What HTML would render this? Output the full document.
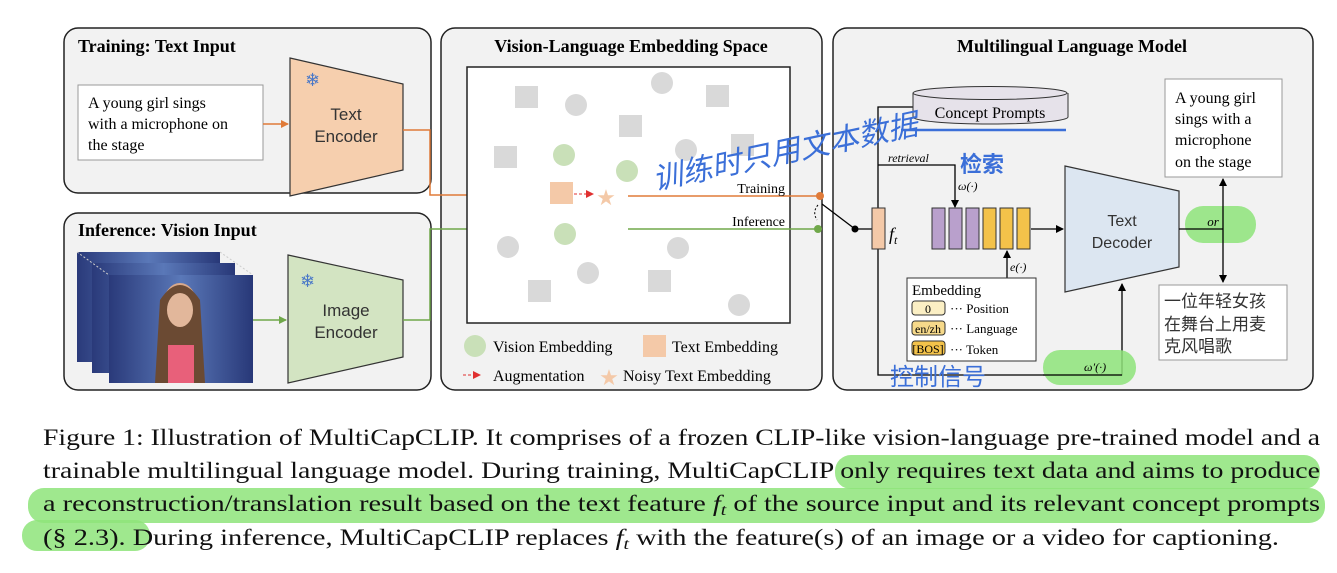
<!DOCTYPE html>
<html><head><meta charset="utf-8"><style>
html,body{margin:0;padding:0;background:#fff;width:1337px;height:573px;overflow:hidden}
svg{display:block}
.s{font-family:"Liberation Serif","Noto Serif CJK SC",serif}
.a{font-family:"Liberation Sans","Noto Sans CJK SC",sans-serif}
</style></head><body>
<svg width="1337" height="573" viewBox="0 0 1337 573" xmlns="http://www.w3.org/2000/svg">
<defs>
<marker id="ao" markerWidth="8" markerHeight="8" refX="7" refY="4" orient="auto" markerUnits="userSpaceOnUse"><path d="M0,0 L8,4 L0,8z" fill="#e07b39"/></marker>
<marker id="ag" markerWidth="8" markerHeight="8" refX="7" refY="4" orient="auto" markerUnits="userSpaceOnUse"><path d="M0,0 L8,4 L0,8z" fill="#70a84a"/></marker>
<marker id="ak" markerWidth="8" markerHeight="8" refX="7" refY="4" orient="auto" markerUnits="userSpaceOnUse"><path d="M0,0 L8,4 L0,8z" fill="#000"/></marker>
<marker id="ar" markerWidth="8" markerHeight="8" refX="7" refY="4" orient="auto" markerUnits="userSpaceOnUse"><path d="M0,0 L8,4 L0,8z" fill="#e03030"/></marker>
<linearGradient id="img" x1="0" y1="0" x2="1" y2="0"><stop offset="0" stop-color="#2a3a7a"/><stop offset="0.5" stop-color="#5a78b8"/><stop offset="1" stop-color="#283878"/></linearGradient>
</defs>
<!-- panels -->
<rect x="64" y="28" width="367" height="165" rx="14" fill="#f2f2f2" stroke="#222" stroke-width="1.5"/>
<rect x="64" y="213" width="367" height="177" rx="14" fill="#f2f2f2" stroke="#222" stroke-width="1.5"/>
<rect x="441" y="28" width="381" height="362" rx="14" fill="#f2f2f2" stroke="#222" stroke-width="1.5"/>
<rect x="833" y="28" width="480" height="362" rx="14" fill="#f2f2f2" stroke="#222" stroke-width="1.5"/>
<text x="78" y="52" class="s" font-size="18" font-weight="bold">Training: Text Input</text>
<text x="78" y="236" class="s" font-size="18" font-weight="bold">Inference: Vision Input</text>
<text x="631" y="52" class="s" font-size="18" font-weight="bold" text-anchor="middle">Vision-Language Embedding Space</text>
<text x="1072" y="52" class="s" font-size="18" font-weight="bold" text-anchor="middle">Multilingual Language Model</text>
<!-- text input -->
<rect x="78" y="85" width="185" height="75" fill="#fff" stroke="#999"/>
<text class="s" font-size="16"><tspan x="88" y="108">A young girl sings</tspan><tspan x="88" y="129">with a microphone on</tspan><tspan x="88" y="150">the stage</tspan></text>
<line x1="263" y1="124" x2="288" y2="124" stroke="#e07b39" stroke-width="1.5" marker-end="url(#ao)"/>
<polygon points="290,58 403,84 403,170 290,196" fill="#f6cfae" stroke="#333" stroke-width="1.2"/>
<text x="305" y="86" font-size="18" fill="#4a78c8">❄</text>
<text x="346" y="120" class="a" font-size="17" fill="#333" text-anchor="middle">Text</text>
<text x="346" y="142" class="a" font-size="17" fill="#333" text-anchor="middle">Encoder</text>
<polyline points="403,130 430,130 430,195 548,195" fill="none" stroke="#e07b39" stroke-width="1.5" marker-end="url(#ao)"/>
<!-- images -->
<rect x="77" y="252" width="143" height="110" fill="url(#img)"/>
<rect x="92" y="263" width="143" height="110" fill="url(#img)"/>
<line x1="77" y1="252" x2="109" y2="275" stroke="#ccc" stroke-dasharray="2,2"/>
<line x1="220" y1="252" x2="253" y2="275" stroke="#ccc" stroke-dasharray="2,2"/>
<rect x="109" y="275" width="144" height="108" fill="url(#img)"/>
<ellipse cx="180" cy="305" rx="17" ry="22" fill="#d9a98c"/>
<path d="M160,300 Q180,270 200,300 L205,383 L155,383z" fill="#6b4a33"/>
<ellipse cx="180" cy="310" rx="13" ry="17" fill="#e2b79b"/>
<rect x="168" y="345" width="26" height="38" fill="#e8607a"/>
<line x1="403" y1="320" x2="288" y2="320" stroke="none"/>
<line x1="253" y1="320" x2="286" y2="320" stroke="#70a84a" stroke-width="1.5" marker-end="url(#ag)"/>
<polygon points="288,255 403,280 403,357 288,383" fill="#d3e4c2" stroke="#333" stroke-width="1.2"/>
<text x="300" y="287" font-size="18" fill="#4a78c8">❄</text>
<text x="346" y="316" class="a" font-size="17" fill="#333" text-anchor="middle">Image</text>
<text x="346" y="338" class="a" font-size="17" fill="#333" text-anchor="middle">Encoder</text>
<polyline points="403,320 430,320 430,229 548,229" fill="none" stroke="#70a84a" stroke-width="1.5" marker-end="url(#ag)"/>
<!-- embedding space -->
<rect x="467" y="67" width="323" height="256" fill="#fff" stroke="#222" stroke-width="1.5"/>
<g fill="#d9d9d9">
<rect x="515" y="86" width="23" height="22"/><rect x="619" y="115" width="23" height="22"/><rect x="706" y="85" width="23" height="22"/>
<rect x="494" y="146" width="23" height="22"/><rect x="731" y="134" width="23" height="22"/><rect x="528" y="280" width="23" height="22"/><rect x="648" y="270" width="23" height="22"/>
<circle cx="576" cy="105" r="11"/><circle cx="662" cy="83" r="11"/><circle cx="686" cy="150" r="11"/><circle cx="508" cy="247" r="11"/><circle cx="588" cy="273" r="11"/><circle cx="678" cy="248" r="11"/><circle cx="739" cy="305" r="11"/>
</g>
<g fill="#c9e0b8"><circle cx="564" cy="155" r="11"/><circle cx="627" cy="171" r="11"/><circle cx="565" cy="234" r="11"/></g>
<rect x="550" y="182" width="23" height="22" fill="#f4c9a8"/>
<line x1="574" y1="194" x2="593" y2="194" stroke="#e03030" stroke-dasharray="3,2" marker-end="url(#ar)"/>
<text x="606" y="205" font-size="22" fill="#f4c9a8" text-anchor="middle">★</text>
<line x1="628" y1="196" x2="820" y2="196" stroke="#e07b39" stroke-width="1.5"/>
<line x1="628" y1="229" x2="818" y2="229" stroke="#70a84a" stroke-width="1.5"/>
<text x="785" y="193" class="s" font-size="14" text-anchor="end">Training</text>
<text x="785" y="226" class="s" font-size="14" text-anchor="end">Inference</text>
<circle cx="820" cy="196" r="4" fill="#e07b39"/><circle cx="818" cy="229" r="4" fill="#70a84a"/>
<path d="M818,205 Q812,212 817,220" fill="none" stroke="#000" stroke-dasharray="2,2"/>
<line x1="822" y1="204" x2="855" y2="229" stroke="#000" stroke-width="1.3"/>
<circle cx="855" cy="229" r="3.5" fill="#000"/>
<line x1="855" y1="229" x2="872" y2="229" stroke="#000" stroke-width="1.3"/>
<circle cx="475" cy="346" r="11" fill="#c9e0b8"/>
<text x="493" y="352" class="s" font-size="16">Vision Embedding</text>
<rect x="643" y="335" width="23" height="22" fill="#f4c9a8"/>
<text x="672" y="352" class="s" font-size="16">Text Embedding</text>
<line x1="463" y1="375" x2="480" y2="375" stroke="#e03030" stroke-dasharray="3,2" marker-end="url(#ar)"/>
<text x="493" y="381" class="s" font-size="16">Augmentation</text>
<text x="609" y="385" font-size="22" fill="#f4c9a8" text-anchor="middle">★</text>
<text x="623" y="381" class="s" font-size="16">Noisy Text Embedding</text>
<!-- right panel -->
<polyline points="913,107 878,107 878,375 1122,375 1122,284" fill="none" stroke="#000" stroke-width="1.3" marker-end="url(#ak)"/>
<polyline points="878,165 955,165 955,207" fill="none" stroke="#000" stroke-width="1.3" marker-end="url(#ak)"/>
<text x="888" y="162" class="s" font-size="12" font-style="italic">retrieval</text>
<text x="958" y="190" class="s" font-size="12" font-style="italic">ω(·)</text>
<path d="M913,93 L913,117 A77,7 0 0 0 1068,117 L1068,93" fill="#e6e2ea" stroke="#333"/>
<ellipse cx="990" cy="93" rx="77" ry="6.5" fill="#e6e2ea" stroke="#333"/>
<text x="990" y="118" class="s" font-size="16" text-anchor="middle">Concept Prompts</text>
<line x1="901" y1="130" x2="1066" y2="130" stroke="#3b6fd8" stroke-width="2.5"/>
<rect x="872" y="208" width="13" height="41" fill="#f4c9a8" stroke="#333"/>
<text x="889" y="240" class="s" font-size="18" font-style="italic">f<tspan font-size="12" dy="4">t</tspan></text>
<g stroke="#333" stroke-width="1">
<rect x="932" y="208" width="13" height="41" fill="#b9a0cc"/><rect x="949" y="208" width="13" height="41" fill="#b9a0cc"/><rect x="966" y="208" width="13" height="41" fill="#b9a0cc"/>
<rect x="983" y="208" width="13" height="41" fill="#f3c24a"/><rect x="1000" y="208" width="13" height="41" fill="#f3c24a"/><rect x="1017" y="208" width="13" height="41" fill="#f3c24a"/>
</g>
<line x1="1031" y1="229" x2="1063" y2="229" stroke="#000" stroke-width="1.3" marker-end="url(#ak)"/>
<polygon points="1065,166 1179,191 1179,267 1065,292" fill="#dce6f1" stroke="#333" stroke-width="1.2"/>
<text x="1122" y="226" class="a" font-size="16" fill="#333" text-anchor="middle">Text</text>
<text x="1122" y="248" class="a" font-size="16" fill="#333" text-anchor="middle">Decoder</text>
<rect x="1185" y="206" width="71" height="37" rx="18" fill="#8ee47a" opacity="0.85"/>
<line x1="1179" y1="229" x2="1223" y2="229" stroke="#000" stroke-width="1.3"/>
<line x1="1223" y1="229" x2="1223" y2="179" stroke="#000" stroke-width="1.3" marker-end="url(#ak)"/>
<line x1="1223" y1="229" x2="1223" y2="282" stroke="#000" stroke-width="1.3" marker-end="url(#ak)"/>
<text x="1213" y="226" class="s" font-size="13" font-style="italic" text-anchor="middle">or</text>
<rect x="1165" y="79" width="117" height="98" fill="#fff" stroke="#999"/>
<text class="s" font-size="16"><tspan x="1175" y="103">A young girl</tspan><tspan x="1175" y="124">sings with a</tspan><tspan x="1175" y="145">microphone</tspan><tspan x="1175" y="167">on the stage</tspan></text>
<rect x="1159" y="285" width="128" height="75" fill="#fff" stroke="#999"/>
<text class="a" font-size="17" fill="#333"><tspan x="1164" y="307">一位年轻女孩</tspan><tspan x="1164" y="330">在舞台上用麦</tspan><tspan x="1164" y="352">克风唱歌</tspan></text>
<line x1="1007" y1="278" x2="1007" y2="251" stroke="#000" stroke-width="1.3" marker-end="url(#ak)"/>
<text x="1010" y="271" class="s" font-size="12" font-style="italic">e(·)</text>
<rect x="907" y="278" width="129" height="83" fill="#fff" stroke="#333"/>
<text x="912" y="295" class="s" font-size="15">Embedding</text>
<rect x="912" y="301" width="33" height="14" rx="3" fill="#fbefc4" stroke="#333"/><text x="928" y="313" class="s" font-size="12" text-anchor="middle">0</text>
<rect x="912" y="321" width="33" height="14" rx="3" fill="#f6d98a" stroke="#333"/><text x="928" y="333" class="s" font-size="12" text-anchor="middle">en/zh</text>
<rect x="912" y="341" width="33" height="14" rx="3" fill="#f3c24a" stroke="#333"/><text x="928" y="353" class="s" font-size="12" text-anchor="middle">[BOS]</text>
<text x="950" y="313" class="s" font-size="13">··· Position</text>
<text x="950" y="333" class="s" font-size="13">··· Language</text>
<text x="950" y="354" class="s" font-size="13">··· Token</text>
<rect x="1043" y="350" width="93" height="35" rx="17" fill="#8ee47a" opacity="0.85"/>
<line x1="1043" y1="375" x2="1122" y2="375" stroke="#000" stroke-width="1.3"/>
<text x="1084" y="371" class="s" font-size="12" font-style="italic">ω′(·)</text>
<!-- handwriting -->
<text x="655" y="190" class="a" font-size="30" fill="#3b6fd8" transform="rotate(-12 655 190)" font-style="italic">训练时只用文本数据</text>
<text x="960" y="172" class="a" font-size="22" fill="#3b6fd8" font-weight="bold">检索</text>
<text x="890" y="385" class="a" font-size="24" fill="#3b6fd8">控制信号</text>
<!-- caption -->
<rect x="835" y="455" width="485" height="34" rx="16" fill="#8ee47a" opacity="0.85"/>
<rect x="28" y="488" width="1297" height="35" rx="16" fill="#8ee47a" opacity="0.85"/>
<rect x="22" y="520" width="128" height="31" rx="15" fill="#8ee47a" opacity="0.85"/>
<g class="s" font-size="23" fill="#111">
<text x="43" y="445" textLength="1277" lengthAdjust="spacingAndGlyphs">Figure 1: Illustration of MultiCapCLIP. It comprises of a frozen CLIP-like vision-language pre-trained model and a</text>
<text x="43" y="478" textLength="1277" lengthAdjust="spacingAndGlyphs">trainable multilingual language model. During training, MultiCapCLIP only requires text data and aims to produce</text>
<text x="43" y="511" textLength="1277" lengthAdjust="spacingAndGlyphs">a reconstruction/translation result based on the text feature <tspan font-style="italic">f<tspan font-size="16" dy="4">t</tspan></tspan><tspan dy="-4"> of the source input and its relevant concept prompts</tspan></text>
<text x="43" y="545" textLength="1236" lengthAdjust="spacingAndGlyphs">(§ 2.3). During inference, MultiCapCLIP replaces <tspan font-style="italic">f<tspan font-size="16" dy="4">t</tspan></tspan><tspan dy="-4"> with the feature(s) of an image or a video for captioning.</tspan></text>
</g>
</svg>
</body></html>
